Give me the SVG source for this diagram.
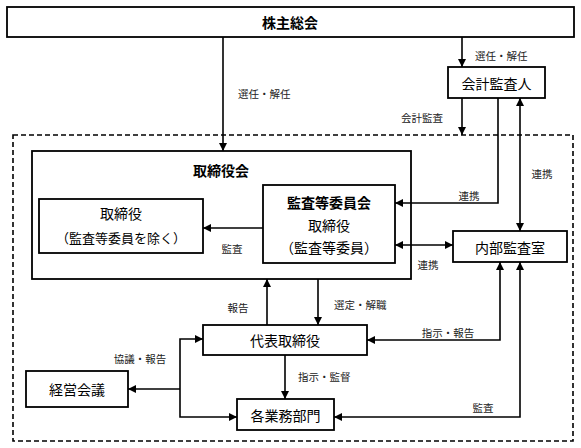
<svg xmlns="http://www.w3.org/2000/svg" width="581" height="448" viewBox="0 0 581 448">
<style>
.box{fill:#fff;stroke:#000;stroke-width:1.8}
.t{font-family:"Noto Sans CJK JP","Noto Sans CJK SC",sans-serif;font-size:14px;fill:#000;text-anchor:middle;dominant-baseline:central}
.tp{font-size:13px}
.b{font-weight:bold}
.l{font-family:"Noto Sans CJK JP","Noto Sans CJK SC",sans-serif;font-size:10.5px;fill:#222;dominant-baseline:central}
.c{fill:none;stroke:#000;stroke-width:1.6}
.dash{fill:none;stroke:#000;stroke-width:1.6;stroke-dasharray:5,3}
</style>
<defs>
<marker id="ah" viewBox="0 0 10 10" refX="10" refY="5" markerWidth="9" markerHeight="8" markerUnits="userSpaceOnUse" orient="auto-start-reverse">
<path d="M0,0 L10,5 L0,10 z" fill="#000"/>
</marker>
</defs>
<rect class="dash" x="13" y="135" width="560" height="306"/>
<g id="shareholders">
<rect class="box" x="7" y="7" width="567" height="30"/>
<text class="t b" x="290" y="22">株主総会</text>
</g>
<g id="auditor">
<rect class="box" x="448" y="67" width="97" height="31"/>
<text class="t" x="496.5" y="82.5">会計監査人</text>
</g>
<g id="board">
<rect class="box" x="32" y="151" width="379" height="128"/>
<text class="t b" x="221" y="170">取締役会</text>
</g>
<g id="directors">
<rect class="box" x="39" y="199" width="164" height="54"/>
<text class="t" x="121" y="213">取締役</text>
<text class="t tp" x="121" y="237">（監査等委員を除く）</text>
</g>
<g id="audit-committee">
<rect class="box" x="263" y="185" width="132" height="78"/>
<text class="t b" x="329" y="202">監査等委員会</text>
<text class="t" x="329" y="225">取締役</text>
<text class="t" x="329" y="247">（監査等委員）</text>
</g>
<g id="internal-audit">
<rect class="box" x="453" y="231" width="114" height="31"/>
<text class="t" x="510" y="246.5">内部監査室</text>
</g>
<g id="representative">
<rect class="box" x="203" y="325" width="164" height="30"/>
<text class="t" x="285" y="340">代表取締役</text>
</g>
<g id="departments">
<rect class="box" x="237" y="399" width="97" height="31"/>
<text class="t" x="285.5" y="414.5">各業務部門</text>
</g>
<g id="management-meeting">
<rect class="box" x="26" y="371" width="102" height="36"/>
<text class="t" x="77" y="389">経営会議</text>
</g>
<g id="connectors">
<line class="c" x1="223" y1="37" x2="223" y2="151" marker-end="url(#ah)"/>
<line class="c" x1="462" y1="37" x2="462" y2="67" marker-end="url(#ah)"/>
<line class="c" x1="462" y1="98" x2="462" y2="135" marker-end="url(#ah)"/>
<polyline class="c" points="498,98 498,203 395,203" marker-end="url(#ah)"/>
<line class="c" x1="520" y1="98" x2="520" y2="231" marker-start="url(#ah)" marker-end="url(#ah)"/>
<line class="c" x1="263" y1="228" x2="203" y2="228" marker-end="url(#ah)"/>
<line class="c" x1="395" y1="245" x2="453" y2="245" marker-start="url(#ah)" marker-end="url(#ah)"/>
<line class="c" x1="267" y1="325" x2="267" y2="279" marker-end="url(#ah)"/>
<line class="c" x1="318" y1="279" x2="318" y2="325" marker-end="url(#ah)"/>
<polyline class="c" points="500,262 500,340 367,340" marker-start="url(#ah)" marker-end="url(#ah)"/>
<polyline class="c" points="520,262 520,417 334,417" marker-start="url(#ah)" marker-end="url(#ah)"/>
<line class="c" x1="285" y1="355" x2="285" y2="399" marker-end="url(#ah)"/>
<polyline class="c" points="203,339 180,339 180,417 237,417" marker-start="url(#ah)" marker-end="url(#ah)"/>
<line class="c" x1="180" y1="389" x2="128" y2="389" marker-end="url(#ah)"/>
<text class="l" x="238" y="93">選任・解任</text>
<text class="l" x="475" y="55">選任・解任</text>
<text class="l" x="443" y="117" text-anchor="end">会計監査</text>
<text class="l" x="469" y="195" text-anchor="middle">連携</text>
<text class="l" x="542" y="173" text-anchor="middle">連携</text>
<text class="l" x="232" y="248" text-anchor="middle">監査</text>
<text class="l" x="428" y="264" text-anchor="middle">連携</text>
<text class="l" x="238" y="307" text-anchor="middle">報告</text>
<text class="l" x="334" y="304">選定・解職</text>
<text class="l" x="448" y="332" text-anchor="middle">指示・報告</text>
<text class="l" x="483" y="407" text-anchor="middle">監査</text>
<text class="l" x="298" y="376">指示・監督</text>
<text class="l" x="140" y="358" text-anchor="middle">協議・報告</text>
</g>
</svg>
